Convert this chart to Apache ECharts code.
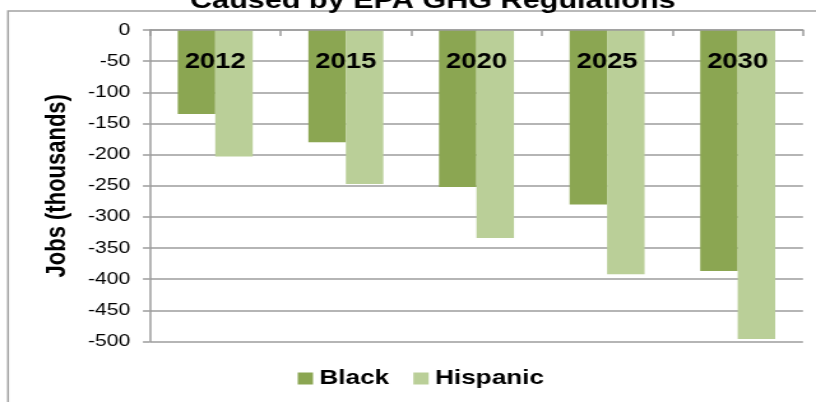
<!DOCTYPE html>
<html>
<head>
<meta charset="utf-8">
<script src="https://cdn.jsdelivr.net/npm/echarts@6/dist/echarts.min.js"></script>
<style>
  html, body { margin: 0; padding: 0; background: #fff; overflow: hidden; }
  /* the chart is laid out on a 640px-wide canvas and widened to the 816px page */
  #chart { width: 640px; height: 402px; transform: scaleX(1.275); transform-origin: 0 0; }
</style>
</head>
<body>
<div id="chart"></div>
<script>
const years = ['2012', '2015', '2020', '2025', '2030'];
const blackJobs = [-135, -180, -252, -280, -387];
const hispanicJobs = [-203, -247, -334, -392, -496];
const yTicks = { min: -500, max: 0, step: 50 };

const chart = echarts.init(document.getElementById('chart'));
const font = '"Liberation Sans", Arial, sans-serif';
const gridGray = '#9c9c9c';

chart.setOption({
  animation: false,
  backgroundColor: '#ffffff',
  title: {
    text: 'Caused by EPA GHG Regulations',
    left: 144,
    top: -16,
    textStyle: { fontFamily: font, fontSize: 24, fontWeight: 'bold', color: '#000' }
  },
  graphic: [{
    type: 'rect',
    shape: { x: 6.3, y: 11, width: 800, height: 600 },
    style: { fill: null, stroke: '#a3a3a3', lineWidth: 1.5 },
    silent: true
  }],
  legend: {
    data: ['Black', 'Hispanic'],
    left: 228.5,
    top: 363,
    padding: 5,
    itemWidth: 12,
    itemHeight: 12,
    itemGap: 19,
    icon: 'rect',
    textStyle: { fontFamily: font, fontSize: 20.5, fontWeight: 'bold', color: '#000' }
  },
  grid: { left: 117.6, right: 10.2, top: 30, bottom: 60.5, containLabel: false },
  xAxis: {
    type: 'category',
    data: years,
    position: 'top',
    axisLine: { show: true, lineStyle: { color: gridGray, width: 1.5 } },
    axisTick: { show: true, inside: true, length: 6, lineStyle: { color: gridGray, width: 1.5 } },
    axisLabel: {
      inside: true,
      margin: 21.5,
      fontFamily: font,
      fontSize: 21.5,
      fontWeight: 'bold',
      color: '#000'
    },
    splitLine: { show: false },
    z: 10
  },
  yAxis: {
    type: 'value',
    min: yTicks.min,
    max: yTicks.max,
    interval: yTicks.step,
    name: 'Jobs (thousands)',
    nameLocation: 'middle',
    nameGap: 62,
    nameTextStyle: { fontFamily: font, fontSize: 22, fontWeight: 'bold', color: '#000' },
    axisLine: { show: true, lineStyle: { color: gridGray, width: 1.5 } },
    axisTick: { show: true, length: 5.5, lineStyle: { color: gridGray, width: 1.5 } },
    axisLabel: { margin: 15.5, fontFamily: font, fontSize: 16.5, color: '#000' },
    splitLine: { show: true, lineStyle: { color: gridGray, width: 1.5 } }
  },
  series: [
    {
      name: 'Black',
      type: 'bar',
      data: blackJobs,
      barGap: '0%',
      barCategoryGap: '42.6%',
      itemStyle: { color: '#8ba652' }
    },
    {
      name: 'Hispanic',
      type: 'bar',
      data: hispanicJobs,
      barGap: '0%',
      barCategoryGap: '42.6%',
      itemStyle: { color: '#bacf98' }
    }
  ]
});
</script>
</body>
</html>
